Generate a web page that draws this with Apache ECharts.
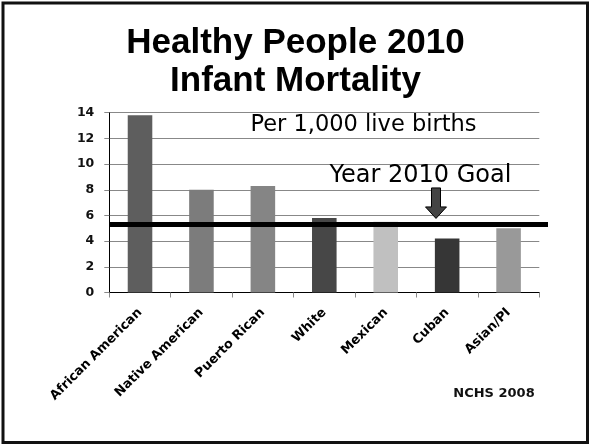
<!DOCTYPE html>
<html><head><meta charset="utf-8">
<script src="https://cdn.jsdelivr.net/npm/echarts@6/dist/echarts.min.js"></script>
<style>html,body{margin:0;padding:0;background:#fff}#c{width:591px;height:445px}</style>
</head><body><div id="c"></div>
<script>
const categories = ['African American','Native American','Puerto Rican','White','Mexican','Cuban','Asian/PI'];
const rates = [13.8, 8.0, 8.3, 5.8, 5.5, 4.2, 5.0];
const barColors = ['#5e5e5e','#7c7c7c','#858585','#474747','#c0c0c0','#363636','#999999'];
const goal = 5.3;
const yMin = 0, yMax = 14, yStep = 2;
const titleLines = ['Healthy People 2010','Infant Mortality'];
const unitText = 'Per 1,000 live births';
const goalText = 'Year 2010 Goal';
const sourceText = 'NCHS 2008';

const chart = echarts.init(document.getElementById('c'), null, {renderer:'canvas'});
const option = {
  animation:false,
  backgroundColor:'#fff',
  title:{
    text: titleLines.join('\n'), left:'center', top:19,
    textStyle:{fontFamily:'Liberation Sans, Arial', fontWeight:'bold', fontSize:35, lineHeight:38.5, color:'#000'}
  },
  grid:{left:109.3, right:51.7, top:112.7, bottom:152.5, containLabel:false},
  xAxis:{
    type:'category', data:categories,
    axisLine:{lineStyle:{color:'#000', width:1}},
    axisTick:{show:true, length:5, lineStyle:{color:'#888'}},
    axisLabel:{rotate:45, interval:0, margin:18, color:'#000', fontFamily:'DejaVu Sans', fontWeight:'bold', fontSize:12.8}
  },
  yAxis:{
    type:'value', min:yMin, max:yMax, interval:yStep,
    axisLine:{show:true, lineStyle:{color:'#000', width:1}},
    axisTick:{show:true, length:5, lineStyle:{color:'#888'}},
    axisLabel:{margin:15, color:'#111', fontFamily:'DejaVu Sans', fontWeight:'bold', fontSize:12.5},
    splitLine:{show:true, lineStyle:{color:'#888', width:1}}
  },
  series:[{
    type:'bar', barWidth:'40%',
    data: rates.map((v,i)=>({value:v, itemStyle:{color:barColors[i]}}))
  }]
};
chart.setOption(option);

const gy = chart.convertToPixel({yAxisIndex:0}, goal);
const x0 = chart.convertToPixel({xAxisIndex:0}, categories[0]) - 30;
const ax = 436, tipY = gy - 6;
chart.setOption({
  graphic:[
    {type:'rect', shape:{x:3, y:3, width:584.5, height:439.5}, style:{fill:null, stroke:'#111', lineWidth:3}, z:200},
    {type:'line', shape:{x1:x0, y1:gy, x2:548, y2:gy}, style:{stroke:'#000', lineWidth:5}, z:150},
    {type:'polygon', shape:{points:[[ax-4.5,tipY-30.5],[ax+4.5,tipY-30.5],[ax+4.5,tipY-11.5],[ax+10.5,tipY-11.5],[ax,tipY],[ax-10.5,tipY-11.5],[ax-4.5,tipY-11.5]]},
      style:{fill:'#444', stroke:'#000', lineWidth:1}, z:150},
    {type:'text', x:363.5, y:125, style:{text:unitText, fontFamily:'DejaVu Sans', fontSize:22.5, fill:'#000', align:'center', verticalAlign:'middle'}, z:150},
    {type:'text', x:420.5, y:176, style:{text:goalText, fontFamily:'DejaVu Sans', fontSize:24, fill:'#000', align:'center', verticalAlign:'middle'}, z:150},
    {type:'text', x:494, y:393.5, style:{text:sourceText, fontFamily:'DejaVu Sans', fontSize:13, fontWeight:'bold', fill:'#111', align:'center', verticalAlign:'middle'}, z:150}
  ]
});
</script></body></html>
